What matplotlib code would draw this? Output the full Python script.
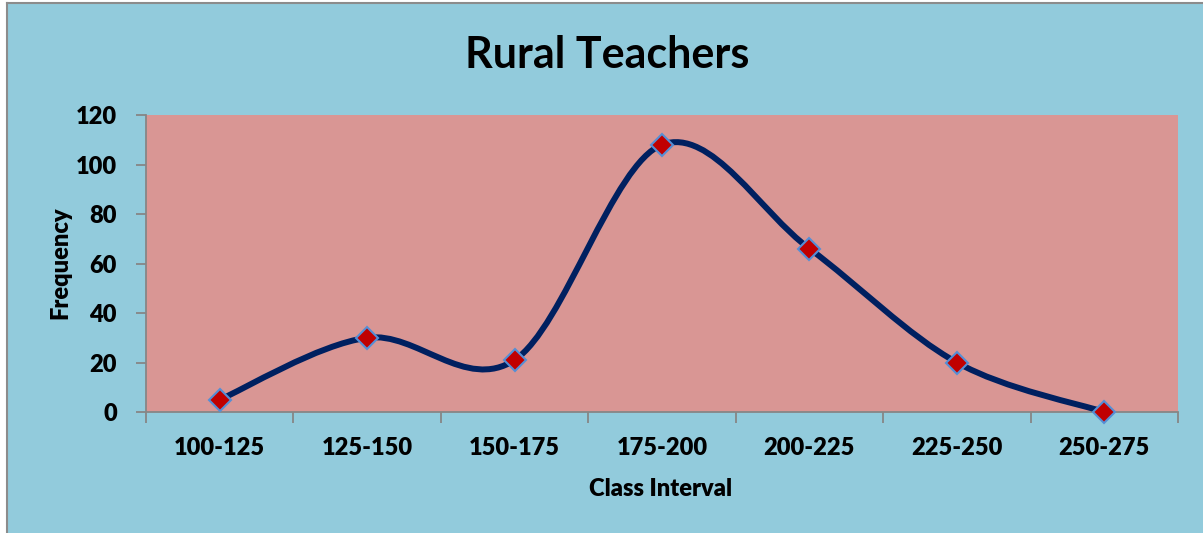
import matplotlib
matplotlib.use("Agg")
import matplotlib.pyplot as plt
from matplotlib.path import Path
from matplotlib.patches import PathPatch, Rectangle
import numpy as np

categories = ["100-125", "125-150", "150-175", "175-200", "200-225", "225-250", "250-275"]
frequency = [5, 30, 21, 108, 66, 20, 0]
yticks = [0, 20, 40, 60, 80, 100, 120]

font = "Lato"
wt = "heavy"
plt.rcParams["font.family"] = [font, "DejaVu Sans"]
plt.rcParams["font.weight"] = wt

W, H = 1203, 533
fig = plt.figure(figsize=(W / 100, H / 100), dpi=100)
fig.patch.set_facecolor("white")
# chart area background with left/top grey border
fig.patches.append(Rectangle((6 / W, 0), 1 - 6 / W, 1 - 2 / H, transform=fig.transFigure,
                             facecolor="#92CBDC", edgecolor="none", zorder=-10))
fig.lines.append(plt.Line2D([6.5 / W, 6.5 / W], [0, 1 - 2.5 / H], transform=fig.transFigure,
                            color="#8C8C8C", lw=1.5, zorder=-5))
fig.lines.append(plt.Line2D([6.5 / W, 1], [1 - 2.5 / H, 1 - 2.5 / H], transform=fig.transFigure,
                            color="#8C8C8C", lw=1.5, zorder=-5))

left, right, top, bottom = 146, 1178, 115, 412
ax = fig.add_axes([left / W, 1 - bottom / H, (right - left) / W, (bottom - top) / H])
ax.set_zorder(2)
ax.set_facecolor("#D99694")

x = np.arange(len(categories))
y = np.array(frequency, dtype=float)

# Excel-like smoothed line (cardinal spline as Bezier segments)
pts = np.column_stack([x, y])
verts = [tuple(pts[0])]
codes = [Path.MOVETO]
n = len(pts)
for i in range(n - 1):
    p0 = pts[i - 1] if i > 0 else pts[i]
    p1 = pts[i]
    p2 = pts[i + 1]
    p3 = pts[i + 2] if i + 2 < n else pts[i + 1]
    c1 = p1 + (p2 - p0) / 6.0
    c2 = p2 - (p3 - p1) / 6.0
    verts += [tuple(c1), tuple(c2), tuple(p2)]
    codes += [Path.CURVE4] * 3
ax.add_patch(PathPatch(Path(verts, codes), facecolor="none", edgecolor="#002060",
                       lw=4.3, capstyle="round", joinstyle="round", zorder=3, clip_on=False))
ax.plot(x, y, linestyle="none", marker="D", markersize=11, markerfacecolor="#C00000",
        markeredgecolor="#558ED5", markeredgewidth=1.5, zorder=4, clip_on=False)

ax.set_xlim(-0.5, len(categories) - 0.5)
ax.set_ylim(0, 120)
ax.set_yticks(yticks)
ax.set_yticklabels([str(v) for v in yticks], fontweight=wt, family=font)
ax.set_xticks(x)
ax.set_xticklabels(categories, fontweight=wt, family=font)
ax.set_xticks(np.arange(-0.5, len(categories)), minor=True)

for sp in ["top", "right"]:
    ax.spines[sp].set_visible(False)
for sp in ["left", "bottom"]:
    ax.spines[sp].set_color("#868686")
    ax.spines[sp].set_linewidth(1.3)

ax.tick_params(axis="x", which="major", length=0, pad=18, labelsize=17, labelcolor="black")
ax.tick_params(axis="x", which="minor", length=8, width=1.3, color="#868686")
ax.tick_params(axis="y", which="major", length=7, width=1.3, color="#868686", pad=14,
               labelsize=17)

fig.text(607 / W, 1 - 55 / H, "Rural Teachers", ha="center", va="center", fontsize=31,
         fontweight="bold", family=font)
fig.text(661 / W, 1 - 489 / H, "Class Interval", ha="center", va="center", fontsize=17,
         fontweight=wt, family=font)
fig.text(60 / W, 1 - 263 / H, "Frequency", ha="center", va="center", fontsize=17,
         fontweight=wt, family=font, rotation=90)

fig.savefig("out.png", dpi=100, facecolor=fig.get_facecolor())
